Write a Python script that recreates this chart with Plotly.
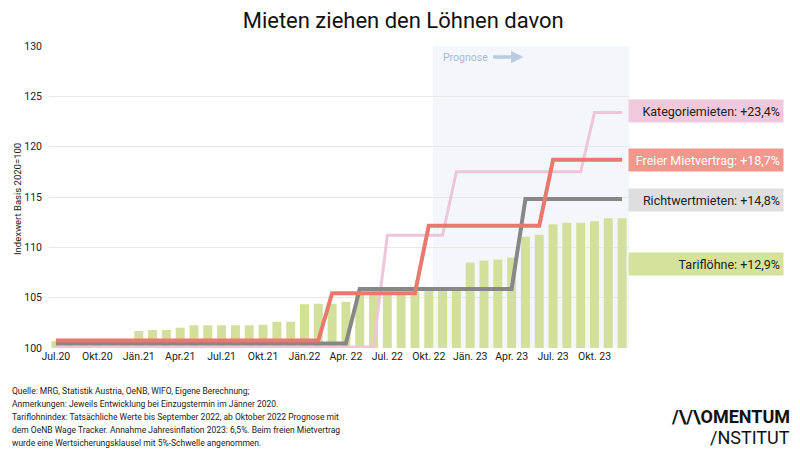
import plotly.graph_objects as go

# ---- data -------------------------------------------------------------
months = ["Jul.20","Aug.20","Sep.20","Okt.20","Nov.20","Dez.20",
          "Jän.21","Feb.21","Mär.21","Apr.21","Mai.21","Jun.21",
          "Jul.21","Aug.21","Sep.21","Okt.21","Nov.21","Dez.21",
          "Jän.22","Feb.22","Mär.22","Apr.22","Mai.22","Jun.22",
          "Jul.22","Aug.22","Sep.22","Okt.22","Nov.22","Dez.22",
          "Jän.23","Feb.23","Mär.23","Apr.23","Mai.23","Jun.23",
          "Jul.23","Aug.23","Sep.23","Okt.23","Nov.23","Dez.23"]
x_idx = list(range(len(months)))

tarifloehne = [100.7,100.7,100.7,100.7,100.7,100.7,
               101.7,101.8,101.8,102.0,102.25,102.25,
               102.25,102.25,102.25,102.3,102.6,102.6,
               104.35,104.4,104.4,104.6,105.4,105.4,
               105.5,105.5,105.6,105.7,105.9,105.9,
               108.5,108.7,108.8,109.0,111.05,111.25,
               112.3,112.45,112.45,112.6,112.9,112.9]

kategoriemieten = [100.1]*24 + [111.2]*5 + [117.5]*10 + [123.4]*3
freier_mietvertrag = [100.75]*20 + [105.45]*7 + [112.15]*9 + [118.7]*6
richtwertmieten = [100.45]*22 + [105.85]*12 + [114.8]*8

tick_vals = [0,3,6,9,12,15,18,21,24,27,30,33,36,39]
tick_text = ["Jul.20","Okt.20","Jän.21","Apr.21","Jul.21","Okt.21","Jän.22",
             "Apr. 22","Jul. 22","Okt. 22","Jän. 23","Apr. 23","Jul. 23","Okt. 23"]

labels = ["Kategoriemieten: +23,4%", "Freier Mietvertrag: +18,7%",
          "Richtwertmieten: +14,8%", "Tariflöhne: +12,9%"]
label_y = [123.55, 118.7, 114.7, 108.35]

footnote_lines = [
    "Quelle: MRG, Statistik Austria, OeNB, WIFO, Eigene Berechnung;",
    "Anmerkungen: Jeweils Entwicklung bei Einzugstermin im Jänner 2020.",
    "Tariflohnindex: Tatsächliche Werte bis September 2022, ab Oktober 2022 Prognose mit",
    "dem OeNB Wage Tracker. Annahme Jahresinflation 2023: 6,5%. Beim freien Mietvertrag",
    "wurde eine Wertsicherungsklausel mit 5%-Schwelle angenommen.",
]

prognose_start = 27.3

# ---- styles -----------------------------------------------------------
C_PINK = "#efc5d9"
C_RED = "#e9786e"
C_GRAY = "#878787"
C_GREEN = "#d3e09c"
BOX_COLORS = ["#f1c9dd", "#f1978d", "#dedede", "#d5e29b"]
TEXT_COLORS = ["#222222", "#ffffff", "#222222", "#222222"]
FONT = "Roboto, Lato, sans-serif"

PLOT_L, PLOT_R, PLOT_T, PLOT_B = 49, 629.5, 46, 348
def px_x(px):
    return (px - PLOT_L) / (PLOT_R - PLOT_L)
def px_y(py):
    return (PLOT_B - py) / (PLOT_B - PLOT_T)

fig = go.Figure()

fig.add_trace(go.Scatter(x=x_idx, y=kategoriemieten, mode="lines",
                         line=dict(color=C_PINK, width=3), showlegend=False))
fig.add_trace(go.Bar(x=x_idx, y=tarifloehne, marker_color=C_GREEN,
                     marker_line_width=0, showlegend=False))
fig.add_trace(go.Scatter(x=x_idx, y=richtwertmieten, mode="lines",
                         line=dict(color=C_GRAY, width=4), showlegend=False))
fig.add_trace(go.Scatter(x=x_idx, y=freier_mietvertrag, mode="lines",
                         line=dict(color=C_RED, width=4), showlegend=False))

# Prognose shading
fig.add_shape(type="rect", xref="x", yref="paper", x0=prognose_start, x1=41.5,
              y0=0, y1=1, fillcolor="#f3f7fb", line_width=0, layer="below")

annotations = []
annotations.append(dict(x=27.9, y=128.9, xref="x", yref="y", text="Prognose",
                        showarrow=False, xanchor="left", yanchor="middle",
                        font=dict(family=FONT, size=10.5, color="#a9bad3")))
annotations.append(dict(x=33.85, y=128.9, ax=31.55, ay=128.9, xref="x", yref="y",
                        axref="x", ayref="y", text="", showarrow=True,
                        arrowhead=2, arrowsize=0.7, arrowwidth=3.5,
                        arrowcolor="#b9cbe3"))

for t, yv, bc, tc in zip(labels, label_y, BOX_COLORS, TEXT_COLORS):
    annotations.append(dict(x=px_x(628), y=yv, xref="paper", yref="y", text=t,
                            showarrow=False, xanchor="left", yanchor="middle",
                            align="right", width=148, height=16, borderpad=3,
                            bgcolor=bc, font=dict(family=FONT, size=12.5, color=tc)))

annotations.append(dict(x=px_x(17), y=px_y(199), xref="paper", yref="paper",
                        text="Indexwert Basis 2020=100", textangle=-90,
                        showarrow=False, xanchor="center", yanchor="middle",
                        font=dict(family=FONT, size=9.5, color="#222222")))

for i, line in enumerate(footnote_lines):
    annotations.append(dict(x=px_x(10), y=px_y(391 + 13.1 * i), xref="paper",
                            yref="paper", text=line, showarrow=False,
                            xanchor="left", yanchor="middle", align="left",
                            font=dict(family=FONT, size=8.5, color="#222222")))

annotations.append(dict(x=px_x(793), y=px_y(416), xref="paper", yref="paper",
                        text="<b>/\\/\\OMENTUM</b>", showarrow=False,
                        xanchor="right", yanchor="middle",
                        font=dict(family=FONT, size=18, color="#111111")))
annotations.append(dict(x=px_x(793), y=px_y(437), xref="paper", yref="paper",
                        text="/NSTITUT", showarrow=False,
                        xanchor="right", yanchor="middle",
                        font=dict(family=FONT, size=18, color="#111111")))

fig.update_layout(
    width=800, height=449,
    margin=dict(l=PLOT_L, r=800 - PLOT_R, t=PLOT_T, b=449 - PLOT_B),
    paper_bgcolor="white", plot_bgcolor="white",
    bargap=0.35,
    title=dict(text="Mieten ziehen den Löhnen davon", x=0.504, xref="container",
               xanchor="center", y=0.955, yref="container", yanchor="middle",
               font=dict(family=FONT, size=22, color="#111111")),
    font=dict(family=FONT, color="#222222"),
    annotations=annotations,
    xaxis=dict(range=[-0.5, 41.5], tickmode="array", tickvals=tick_vals,
               ticktext=tick_text, showgrid=False, zeroline=False,
               showline=False, ticks="", tickfont=dict(size=10.5, color="#222222")),
    yaxis=dict(range=[100, 130], tickvals=[100,105,110,115,120,125,130],
               showgrid=True, gridcolor="#e7e7e7", gridwidth=1, zeroline=False,
               showline=False, ticks="", ticklabelstandoff=6,
               tickfont=dict(size=10.5, color="#222222")),
)

fig.write_html("out.html", config={"displayModeBar": False},
               post_script="document.body.style.margin='0';document.body.style.overflow='hidden';")
